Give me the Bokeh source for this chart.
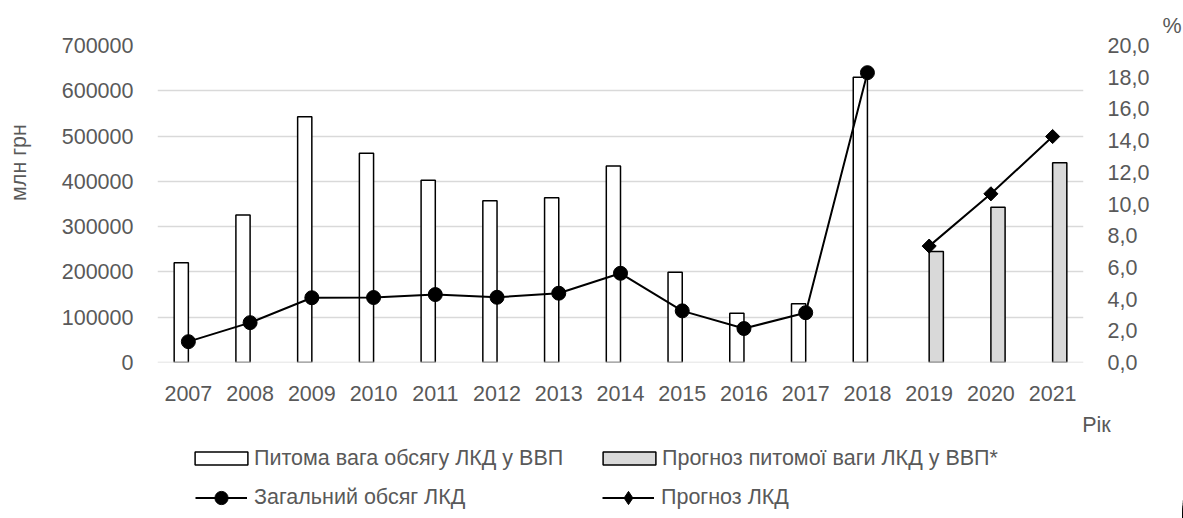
import numpy as np
from bokeh.plotting import figure
from bokeh.layouts import column, row
from bokeh.models import (LinearAxis, Range1d, FixedTicker, Legend, LegendItem, Label,
                          Span, ColumnDataSource, BasicTickFormatter)
from bokeh.transform import dodge
from bokeh.embed import file_html
from bokeh.resources import INLINE

# ---------------- data ----------------
years_actual = [2007, 2008, 2009, 2010, 2011, 2012, 2013, 2014, 2015, 2016, 2017, 2018]
share_actual = [6.3, 9.3, 15.5, 13.2, 11.5, 10.2, 10.4, 12.4, 5.7, 3.1, 3.7, 18.0]      # % of GDP
volume_actual = [46000, 88000, 143000, 143500, 150000, 144000, 153000, 197000,
                 114000, 75000, 110000, 640000]                                        # млн грн

years_forecast = [2019, 2020, 2021]
share_forecast = [7.0, 9.8, 12.6]
volume_forecast = [257000, 372500, 499000]

all_years = list(range(2007, 2022))
left_ticks = [0, 100000, 200000, 300000, 400000, 500000, 600000, 700000]
right_ticks = [0, 2, 4, 6, 8, 10, 12, 14, 16, 18, 20]
right_tick_labels = ["0,0", "2,0", "4,0", "6,0", "8,0", "10,0", "12,0", "14,0",
                     "16,0", "18,0", "20,0"]

label_share_actual = "Питома вага обсягу ЛКД у ВВП"
label_share_forecast = "Прогноз питомої ваги ЛКД у ВВП*"
label_volume_actual = "Загальний обсяг ЛКД"
label_volume_forecast = "Прогноз ЛКД"
y_title = "млн грн"
y2_title = "%"
x_title = "Рік"

# ---------------- style ----------------
FONT = "Liberation Sans"
FS = "21.5px"
TXT = "#595959"
GRID = "#d9d9d9"
STRIP_W = 40
TOP_H = 410
TOTAL_W, TOTAL_H = 1183, 518

# ---------------- main chart ----------------
p = figure(width=TOTAL_W - STRIP_W, height=TOP_H, output_backend="svg", toolbar_location=None,
           title=y2_title,
           x_range=Range1d(2006.5, 2021.5), y_range=Range1d(0, 700000),
           min_border_left=117, min_border_right=100, min_border_top=45,
           min_border_bottom=48)
p.extra_y_ranges = {"pct": Range1d(0, 20)}
p.outline_line_color = None
p.title.align = "right"
p.title.offset = -98
p.title.standoff = 16
p.title.text_font = FONT
p.title.text_font_size = FS
p.title.text_font_style = "normal"
p.title.text_color = TXT

src_a = ColumnDataSource(dict(year=years_actual, share=share_actual, vol=volume_actual))
src_f = ColumnDataSource(dict(year=years_forecast, share=share_forecast, vol=volume_forecast))

BW = 0.23
BAR_A = dict(fill_color="white", line_color="black", line_width=1.5)
BAR_F = dict(fill_color="#d9d9d9", line_color="black", line_width=1.5)
LINE = dict(line_color="black", line_width=2)
DOT = dict(marker="circle", size=14, fill_color="black", line_color="black")
DIA = dict(marker="square", angle=np.pi / 4, size=10, fill_color="black", line_color="black")

p.vbar(x=dodge("year", -BW / 2, range=p.x_range), top="share", bottom=0, width=BW,
       y_range_name="pct", source=src_a, **BAR_A)
p.vbar(x=dodge("year", BW / 2, range=p.x_range), top="share", bottom=0, width=BW,
       y_range_name="pct", source=src_f, **BAR_F)

# grey base line over bar bottoms
p.add_layout(Span(location=0, dimension="width", line_color=GRID, line_width=1.5,
                  level="overlay"))

p.line("year", "vol", source=src_a, **LINE)
p.scatter("year", "vol", source=src_a, **DOT)
p.line("year", "vol", source=src_f, **LINE)
p.scatter("year", "vol", source=src_f, **DIA)

xa = p.xaxis[0]
xa.ticker = FixedTicker(ticks=all_years)
xa.formatter = BasicTickFormatter(use_scientific=False)
ya = p.yaxis[0]
ya.ticker = FixedTicker(ticks=left_ticks)
ya.formatter = BasicTickFormatter(use_scientific=False)

ra = LinearAxis(y_range_name="pct", ticker=FixedTicker(ticks=right_ticks),
                major_label_overrides={t: l for t, l in zip(right_ticks, right_tick_labels)})
p.add_layout(ra, "right")

for ax in (xa, ya, ra):
    ax.axis_line_color = None
    ax.major_tick_line_color = None
    ax.minor_tick_line_color = None
    ax.major_tick_out = 0
    ax.major_tick_in = 0
    ax.major_label_text_font = FONT
    ax.major_label_text_font_size = FS
    ax.major_label_text_color = TXT
ya.major_label_standoff = 24
ra.major_label_standoff = 24
xa.major_label_standoff = 23

p.xgrid.grid_line_color = None
p.ygrid.ticker = FixedTicker(ticks=left_ticks)
p.ygrid.grid_line_color = GRID
p.ygrid.grid_line_width = 1.5

# ---------------- left strip with the y title ----------------
s = figure(width=STRIP_W, height=TOP_H, output_backend="svg", toolbar_location=None,
           title=None, x_axis_type=None, y_axis_type=None, min_border=0,
           x_range=Range1d(0, STRIP_W), y_range=Range1d(0, TOP_H))
s.outline_line_color = None
s.grid.grid_line_color = None
s.add_layout(Label(x=18, y=200, x_units="screen", y_units="screen", text=y_title,
                   angle=np.pi / 2, text_align="center", text_baseline="middle",
                   text_font=FONT, text_font_size=FS, text_color=TXT))

# ---------------- bottom strip with legend and x title ----------------
LH = TOTAL_H - TOP_H
q = figure(width=TOTAL_W, height=LH, output_backend="svg", toolbar_location=None,
           title=None, x_axis_type=None, y_axis_type=None, min_border=0,
           x_range=Range1d(0, TOTAL_W), y_range=Range1d(0, LH))
q.outline_line_color = None
q.grid.grid_line_color = None

q.add_layout(Label(x=1096, y=LH - 14, x_units="screen", y_units="screen", text=x_title,
                   text_align="center", text_baseline="middle",
                   text_font=FONT, text_font_size=FS, text_color=TXT))

# legend-only renderers (same data; outside this strip's ranges, so nothing is drawn)
g_bar_a = q.vbar(x="year", top="share", width=0.23, source=src_a, **BAR_A)
g_bar_f = q.vbar(x="year", top="share", width=0.23, source=src_f, **BAR_F)
g_line_a = q.line("year", "vol", source=src_a, **LINE)
g_dot = q.scatter("year", "vol", source=src_a, **DOT)
g_line_f = q.line("year", "vol", source=src_f, **LINE)
g_dia = q.scatter("year", "vol", source=src_f, marker="diamond", size=10,
                  fill_color="black", line_color="black")

def leg(item, x, y, gw, gh, standoff):
    lg = Legend(items=[item], location=(x, y), orientation="vertical", padding=0, margin=0,
                spacing=0, border_line_color=None, background_fill_alpha=0,
                label_text_font=FONT, label_text_font_size=FS, label_text_color=TXT,
                glyph_width=gw, glyph_height=gh, label_standoff=standoff, label_height=gh)
    q.add_layout(lg, "center")

leg(LegendItem(label=label_share_actual, renderers=[g_bar_a]), 188, 47.5, 66, 16, 0)
leg(LegendItem(label=label_share_forecast, renderers=[g_bar_f]), 596, 47.5, 66, 16, 0)
leg(LegendItem(label=label_volume_actual, renderers=[g_line_a, g_dot]), 195, 4.5, 52, 33, 7)
leg(LegendItem(label=label_volume_forecast, renderers=[g_line_f, g_dia]), 602, 4.5, 52, 33, 7)

layout = column(row(s, p), q)
open("out.html", "w").write(file_html(layout, INLINE))
